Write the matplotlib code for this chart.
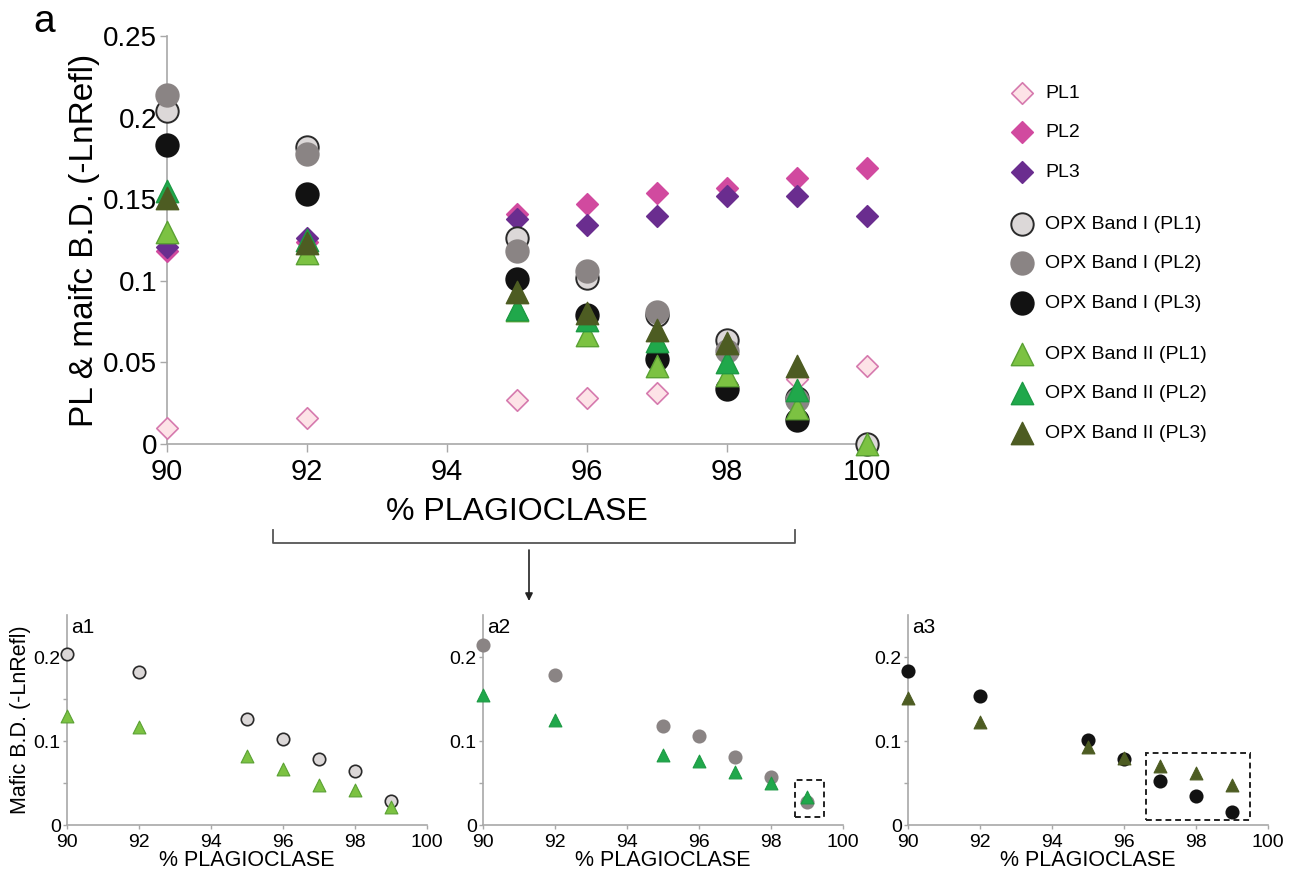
import matplotlib
matplotlib.use("Agg")
import matplotlib.pyplot as plt
from matplotlib.lines import Line2D
from matplotlib.patches import Rectangle, FancyArrowPatch
from matplotlib.ticker import FixedLocator

plt.rcParams['font.family'] = ['Liberation Sans', 'DejaVu Sans']

NaN = float('nan')

# ---------------- data ----------------
plag = [90, 92, 95, 96, 97, 98, 99, 100]
pl1 = [0.010, 0.016, 0.027, 0.028, 0.031, 0.035, 0.040, 0.048]
pl2 = [0.118, 0.124, 0.141, 0.147, 0.154, 0.157, 0.163, 0.169]
pl3 = [0.121, 0.126, 0.138, 0.134, 0.140, 0.152, 0.152, 0.140]
opx1_pl1 = [0.204, 0.182, 0.126, 0.102, 0.079, 0.064, 0.028, 0.0]
opx1_pl2 = [0.214, 0.178, 0.118, 0.106, 0.081, 0.057, 0.027, NaN]
opx1_pl3 = [0.183, 0.153, 0.101, 0.079, 0.052, 0.034, 0.015, NaN]
opx2_pl1 = [0.130, 0.117, 0.082, 0.067, 0.048, 0.042, 0.022, 0.0]
opx2_pl2 = [0.155, 0.125, 0.083, 0.076, 0.063, 0.050, 0.033, NaN]
opx2_pl3 = [0.151, 0.123, 0.093, 0.080, 0.070, 0.062, 0.048, NaN]

labels_pl = ['PL1', 'PL2', 'PL3']
labels_b1 = ['OPX Band I (PL1)', 'OPX Band I (PL2)', 'OPX Band I (PL3)']
labels_b2 = ['OPX Band II (PL1)', 'OPX Band II (PL2)', 'OPX Band II (PL3)']
xticks = [90, 92, 94, 96, 98, 100]
main_yticks = [0, 0.05, 0.1, 0.15, 0.2, 0.25]
main_yticklabels = ['0', '0.05', '0.1', '0.15', '0.2', '0.25']
sub_yticks = [0, 0.1, 0.2]
sub_yticklabels = ['0', '0.1', '0.2']
sub_names = ['a1', 'a2', 'a3']

# ---------------- styles ----------------
AX_COL = '#a8a8a8'
st_pl = [dict(marker='D', facecolor='#fde3e7', edgecolor='#d67aae'),
         dict(marker='D', facecolor='#d14a9f', edgecolor='#d14a9f'),
         dict(marker='D', facecolor='#6a2d8f', edgecolor='#6a2d8f')]
st_b1 = [dict(marker='o', facecolor='#dcd8d8', edgecolor='#2a2a2a'),
         dict(marker='o', facecolor='#8a8484', edgecolor='#8a8484'),
         dict(marker='o', facecolor='#121212', edgecolor='#121212')]
st_b2 = [dict(marker='^', facecolor='#7cc242', edgecolor='#5aa133'),
         dict(marker='^', facecolor='#20a84b', edgecolor='#1d9a44'),
         dict(marker='^', facecolor='#4d5c22', edgecolor='#4d5c22')]

W, H = 1295, 877
fig = plt.figure(figsize=(W / 100, H / 100), dpi=100)


def fx(px):
    return px / W


def fy(py):
    return 1 - py / H


def style_axes(ax):
    for s in ['top', 'right']:
        ax.spines[s].set_visible(False)
    for s in ['left', 'bottom']:
        ax.spines[s].set_color(AX_COL)
        ax.spines[s].set_linewidth(1.2)
    ax.tick_params(which='both', color=AX_COL, direction='out', width=1.0)


# ---------------- main axes ----------------
ax = fig.add_axes([fx(167), fy(444), fx(867) - fx(167), fy(36) - fy(444)])
style_axes(ax)
ax.set_xlim(90, 100)
ax.set_ylim(0, 0.25)
ax.set_xticks(xticks)
ax.set_yticks(main_yticks)
ax.set_yticklabels(main_yticklabels)
ax.tick_params(axis='y', labelsize=20, length=5, pad=2)
ax.tick_params(axis='x', labelsize=21, length=6, pad=4)
ax.set_xlabel('% PLAGIOCLASE', fontsize=23, labelpad=8)
ax.set_ylabel('PL & maifc B.D. (-LnRefl)', fontsize=24, labelpad=2)

h_pl, h_b1, h_b2 = [], [], []
for ys, st, lab in zip([pl1, pl2, pl3], st_pl, labels_pl):
    h_pl.append(ax.scatter(plag, ys, s=120, linewidths=1.2, label=lab, clip_on=False, zorder=3, **st))
for ys, st, lab in zip([opx1_pl1, opx1_pl2, opx1_pl3], st_b1, labels_b1):
    h_b1.append(ax.scatter(plag, ys, s=260, linewidths=1.4, label=lab, clip_on=False, zorder=4, **st))
for ys, st, lab in zip([opx2_pl1, opx2_pl2, opx2_pl3], st_b2, labels_b2):
    h_b2.append(ax.scatter(plag, ys, s=260, linewidths=1.0, label=lab, clip_on=False, zorder=5, **st))

leg_kw = dict(frameon=False, fontsize=14, handlelength=1.0, handletextpad=0.7,
              labelspacing=1.13, borderpad=0, borderaxespad=0, scatterpoints=1,
              loc='upper left', bbox_transform=fig.transFigure)
l1 = ax.legend(handles=h_pl, bbox_to_anchor=(fx(1012), fy(84)), **leg_kw)
ax.add_artist(l1)
l2 = ax.legend(handles=h_b1, bbox_to_anchor=(fx(1012), fy(215)), **leg_kw)
ax.add_artist(l2)
l3 = ax.legend(handles=h_b2, bbox_to_anchor=(fx(1012), fy(345)), **leg_kw)

fig.text(fx(33), fy(22), 'a', fontsize=28, ha='left', va='center')

# bracket and arrow
fig.add_artist(Line2D([fx(273), fx(273), fx(795), fx(795)],
                      [fy(530), fy(543), fy(543), fy(530)],
                      color='#555555', lw=1.3))
fig.add_artist(FancyArrowPatch(
    (fx(529), fy(550)), (fx(529), fy(601)), transform=fig.transFigure,
    arrowstyle='-|>', mutation_scale=11, color='#222222', lw=1.2,
    shrinkA=0, shrinkB=0))

# ---------------- sub axes ----------------
sub_left = [67, 483, 908]
sub_sets = [(opx1_pl1, opx2_pl1, 0), (opx1_pl2, opx2_pl2, 1), (opx1_pl3, opx2_pl3, 2)]
boxes = [None, (98.66, 0.009, 0.80, 0.045), (96.6, 0.006, 2.9, 0.080)]
for i, (left, (yc, yt, k)) in enumerate(zip(sub_left, sub_sets)):
    sax = fig.add_axes([fx(left), fy(825), fx(360), fy(615) - fy(825)])
    style_axes(sax)
    sax.set_xlim(90, 100)
    sax.set_ylim(0, 0.25)
    sax.set_xticks(xticks)
    sax.yaxis.set_major_locator(FixedLocator(sub_yticks))
    sax.set_yticklabels(sub_yticklabels)
    sax.yaxis.set_minor_locator(FixedLocator([0.05, 0.15]))
    sax.tick_params(axis='y', which='major', labelsize=14, length=3, pad=1.5)
    sax.tick_params(axis='x', which='major', labelsize=14, length=3, pad=3.5)
    sax.tick_params(axis='both', which='minor', length=3)
    sax.set_xlabel('% PLAGIOCLASE', fontsize=15.5, labelpad=-1)
    if i == 0:
        sax.set_ylabel('Mafic B.D. (-LnRefl)', fontsize=15.5, labelpad=2)
    sax.scatter(plag[:-1], yc[:-1], s=80, linewidths=1.2, clip_on=False, zorder=3, **st_b1[k])
    sax.scatter(plag[:-1], yt[:-1], s=85, linewidths=0.8, clip_on=False, zorder=4, **st_b2[k])
    sax.text(0.012, 0.985, sub_names[i], transform=sax.transAxes, fontsize=15,
             ha='left', va='top')
    if boxes[i] is not None:
        bx, by, bw, bh = boxes[i]
        sax.add_patch(Rectangle((bx, by), bw, bh, fill=False, ls=(0, (3, 2)),
                                lw=1.4, edgecolor='#222222', zorder=6))

fig.savefig('out.png', dpi=100)
